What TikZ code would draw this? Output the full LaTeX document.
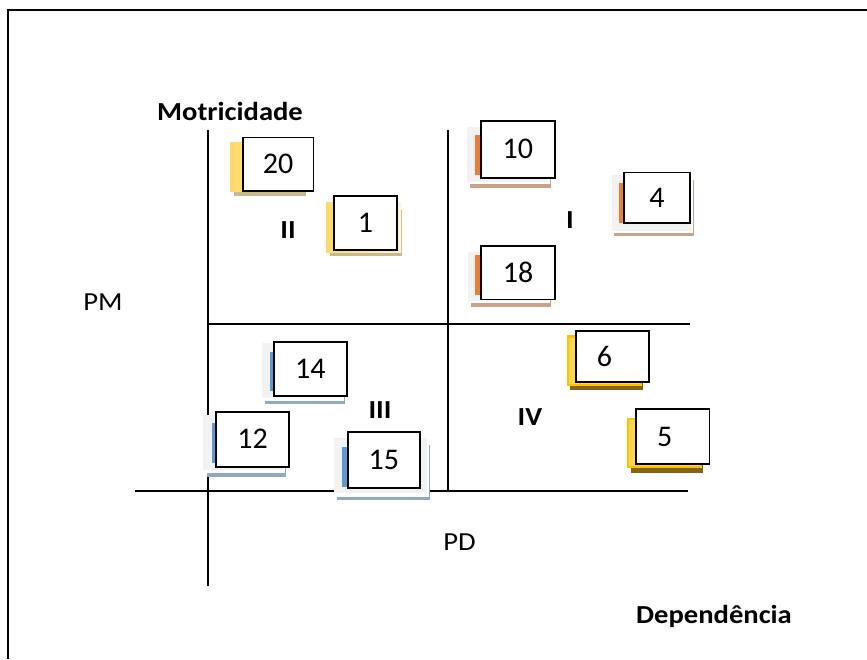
\documentclass[tikz,border=0pt]{standalone}
\usepackage{fontspec}
\setmainfont{Carlito}
\newfontfamily\lblfont{Carlito}[FakeStretch=1.1]
\definecolor{stripeorange}{HTML}{ED7D31}
\definecolor{stripeblue}{HTML}{5B9BD5}
\definecolor{shadetan}{HTML}{C8A28A}
\definecolor{shadeblue}{HTML}{8EA8C6}
\definecolor{backgray}{HTML}{F2F2F2}
\definecolor{lightyellow}{HTML}{FFD966}
\definecolor{shadekhaki}{HTML}{C9B98E}
\definecolor{gold}{HTML}{FFC000}
\definecolor{goldinner}{HTML}{FFD54A}
\definecolor{shadeolive}{HTML}{86650A}
\begin{document}
\begin{tikzpicture}[x=1pt,y=-1pt,
  axis/.style={line width=2pt,black},
  numbox/.style={draw=black,line width=1.6pt,fill=white,rectangle,inner sep=0pt,
    font=\fontsize{30}{36}\selectfont},
  lbl/.style={anchor=base,inner sep=0pt,font=\lblfont\fontsize{26}{30}\selectfont},
  bold lbl/.style={lbl,font=\lblfont\bfseries\fontsize{26}{30}\selectfont},
  yback/.style={left color=lightyellow,right color=lightyellow!25},
]
\useasboundingbox (0,0) rectangle (867,659);
\fill[white] (0,0) rectangle (867,659);

% outer frame (runs off the right and bottom edges)
\draw[line width=2pt] (8,659) -- (8,9.5) -- (867,9.5);

% axes and quadrant dividers
\coordinate (vtop) at (207.5,130);
\coordinate (vbot) at (207.5,586);
\coordinate (hleft) at (135,491);
\coordinate (hright) at (688,491);
\coordinate (mtop) at (447.5,130);
\coordinate (mbot) at (447.5,491);
\coordinate (mleft) at (207.5,323.5);
\coordinate (mright) at (690,323.5);
\draw[axis] (vtop) -- (vbot);
\draw[axis] (hleft) -- (hright);
\draw[axis] (mtop) -- (mbot);
\draw[axis] (mleft) -- (mright);

% ---- quadrant II : variables 20 and 1
\fill[shadekhaki] (234,150) rectangle (306,195.7);
\shade[yback] (230,142) rectangle (305,191.7);
\node[numbox,minimum width=70.6pt,minimum height=53.7pt] (b20) at (278,164.15) {20};
\fill[shadekhaki] (330,210) rectangle (401.7,256);
\shade[yback] (326,202) rectangle (401,252);
\node[numbox,minimum width=62.7pt,minimum height=54pt] (b1) at (365.35,223) {1};

% ---- quadrant I : variables 10, 18 and 4
\fill[shadetan] (470,131) rectangle (551,188.3);
\fill[white] (468.5,129) rectangle (549.5,183.5);
\fill[backgray] (467,127) rectangle (548,181.7);
\fill[stripeorange] (475,135) rectangle (480.7,175);
\node[numbox,minimum width=74.3pt,minimum height=56.7pt] (b10) at (517.85,149.35) {10};

\fill[shadetan] (471,256) rectangle (551,307.3);
\fill[white] (469.5,254) rectangle (549.5,302.7);
\fill[backgray] (468,252) rectangle (548,301);
\fill[stripeorange] (475,255) rectangle (481,295);
\node[numbox,minimum width=74pt,minimum height=53.3pt] (b18) at (518,272.65) {18};

\fill[shadetan] (614,180) rectangle (694,236);
\fill[white] (613,177) rectangle (692.5,233);
\fill[backgray] (611.7,175) rectangle (691,230.7);
\fill[stripeorange] (619.3,182.7) rectangle (624,222.7);
\node[numbox,minimum width=66pt,minimum height=50.4pt] (b4) at (657,197.5) {4};

% ---- quadrant III : variables 14, 12 and 15
\fill[shadeblue] (265,350) rectangle (345,404);
\fill[white] (263.5,345) rectangle (343.5,400.5);
\fill[backgray] (262.3,343.3) rectangle (342,398.3);
\fill[stripeblue] (270,352) rectangle (274,391);
\node[numbox,minimum width=72.7pt,minimum height=54pt] (b14) at (310.35,368.7) {14};

\fill[shadeblue] (206.7,420) rectangle (286,476.7);
\fill[white] (205,418) rectangle (284.5,473.3);
\fill[backgray] (203.3,415) rectangle (283,470);
\fill[stripeblue] (211.7,423) rectangle (216,463);
\node[numbox,minimum width=73pt,minimum height=55pt] (b12) at (252.5,439.2) {12};

\fill[shadeblue] (336.7,445) rectangle (430,500);
\fill[white] (335,440) rectangle (428.5,496.5);
\fill[backgray] (334,438.3) rectangle (427,493.3);
\fill[stripeblue] (342,446.7) rectangle (347.7,486.7);
\node[numbox,minimum width=72.3pt,minimum height=55.7pt] (b15) at (383.85,459.85) {15};

% ---- quadrant IV : variables 6 and 5
\fill[shadeolive] (570,345) rectangle (642.7,390);
\fill[gold] (566.7,335) rectangle (642,385.7);
\fill[goldinner] (569,337.5) rectangle (640,383.5);
\node[numbox,minimum width=73.3pt,minimum height=51.3pt] (b6) at (612.35,356.35) {6\kern16pt};

\fill[shadeolive] (631,430) rectangle (702.7,472.7);
\fill[gold] (626.7,417.7) rectangle (702,468.3);
\fill[goldinner] (629,420) rectangle (700,466);
\node[numbox,minimum width=73.3pt,minimum height=55pt] (b5) at (672.65,436.5) {5\kern16pt};

% ---- quadrant numerals and axis titles
\node[bold lbl] (qII) at (288,238) {II};
\node[bold lbl] (qI) at (570,228) {I};
\node[bold lbl] (qIII) at (380,418) {III};
\node[bold lbl] (qIV) at (530,425) {IV};
\node[bold lbl] (tmot) at (230,120.5) {Motricidade};
\node[lbl] (tpm) at (103,310.7) {PM};
\node[lbl] (tpd) at (459.5,550) {PD};
\node[bold lbl] (tdep) at (714,623.3) {Dependência};
\end{tikzpicture}
\end{document}
